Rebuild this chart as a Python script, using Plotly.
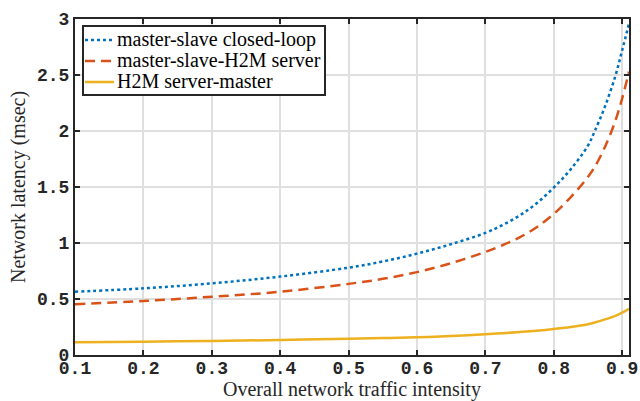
import plotly.graph_objects as go

traffic = [0.1, 0.2, 0.3, 0.4, 0.5, 0.55, 0.6, 0.65, 0.7, 0.725, 0.75, 0.775, 0.8,
           0.825, 0.85, 0.86, 0.875, 0.89, 0.9, 0.91]
closed_loop = [0.565, 0.595, 0.64, 0.70, 0.78, 0.835, 0.905, 0.99, 1.09, 1.16, 1.245, 1.355, 1.495,
               1.66, 1.87, 2.0, 2.22, 2.49, 2.72, 2.96]
ms_h2m = [0.453, 0.482, 0.52, 0.565, 0.635, 0.68, 0.74, 0.82, 0.92, 0.98, 1.05, 1.14, 1.26,
          1.41, 1.59, 1.68, 1.86, 2.09, 2.29, 2.53]
h2m_master = [0.113, 0.119, 0.125, 0.134, 0.145, 0.151, 0.158, 0.17, 0.185, 0.194, 0.205, 0.217, 0.232,
              0.25, 0.275, 0.29, 0.318, 0.35, 0.378, 0.413]

names = ["master-slave closed-loop", "master-slave-H2M server", "H2M server-master"]
colors = ["#0072BD", "#D95319", "#EDB120"]
dashes = ["dot", "10px,6px", "solid"]
x_ticks = [0.1, 0.2, 0.3, 0.4, 0.5, 0.6, 0.7, 0.8, 0.9]
x_labels = ["0.1", "0.2", "0.3", "0.4", "0.5", "0.6", "0.7", "0.8", "0.9"]
y_ticks = [0, 0.5, 1, 1.5, 2, 2.5, 3]
y_labels = ["0", "0.5", "1", "1.5", "2", "2.5", "3"]

fig = go.Figure()
for ys, nm, c, d in zip([closed_loop, ms_h2m, h2m_master], names, colors, dashes):
    fig.add_trace(go.Scatter(x=traffic, y=ys, mode="lines", name=nm, showlegend=False,
                             line=dict(color=c, width=2.5, dash=d, shape="spline", smoothing=1.0)))

# manual legend (paper coordinates) to match the compact MATLAB legend box
L, W, T, H = 75, 554, 19, 336
def px(xp): return (xp - L) / W
def py(yp): return (T + H - yp) / H

shapes = [dict(type="rect", xref="paper", yref="paper",
               x0=px(83), x1=px(325), y0=py(95), y1=py(26),
               line=dict(color="#262626", width=2), fillcolor="white", layer="above")]
annotations = []
row_y = [40, 61, 82]
for i, nm in enumerate(names):
    shapes.append(dict(type="line", xref="paper", yref="paper",
                       x0=px(85), x1=px(114), y0=py(row_y[i]), y1=py(row_y[i]),
                       line=dict(color=colors[i], width=2.5, dash=dashes[i]), layer="above"))
    annotations.append(dict(xref="paper", yref="paper", x=px(115), y=py(row_y[i] - 1),
                            xanchor="left", yanchor="middle", showarrow=False, text=nm,
                            font=dict(family="Liberation Serif", size=20, color="#000000")))

axis_common = dict(
    showline=True, linecolor="#262626", linewidth=2, mirror="ticks",
    ticks="inside", ticklen=5, tickwidth=2, tickcolor="#262626",
    showgrid=True, gridcolor="#dfdfdf", gridwidth=2, zeroline=False, automargin=False,
    tickfont=dict(family="Liberation Mono", size=18, color="#262626", weight="bold"),
)

fig.update_layout(
    width=640, height=401,
    margin=dict(l=L, r=640 - L - W, t=T, b=401 - T - H),
    paper_bgcolor="white", plot_bgcolor="white",
    shapes=shapes, annotations=annotations,
    xaxis=dict(range=[0.1, 0.91], tickvals=x_ticks, ticktext=x_labels, ticklabelstandoff=-5,
               title=dict(text="Overall network traffic intensity",
                          font=dict(family="Liberation Serif", size=20, color="#262626"),
                          standoff=10),
               **axis_common),
    yaxis=dict(range=[0, 3], tickvals=y_ticks, ticktext=y_labels,
               title=dict(text="Network latency (msec)",
                          font=dict(family="Liberation Serif", size=20, color="#262626"),
                          standoff=6),
               **axis_common),
)

fig.write_html("out.html", config={"displayModeBar": False},
               post_script="document.body.style.margin='0';")
